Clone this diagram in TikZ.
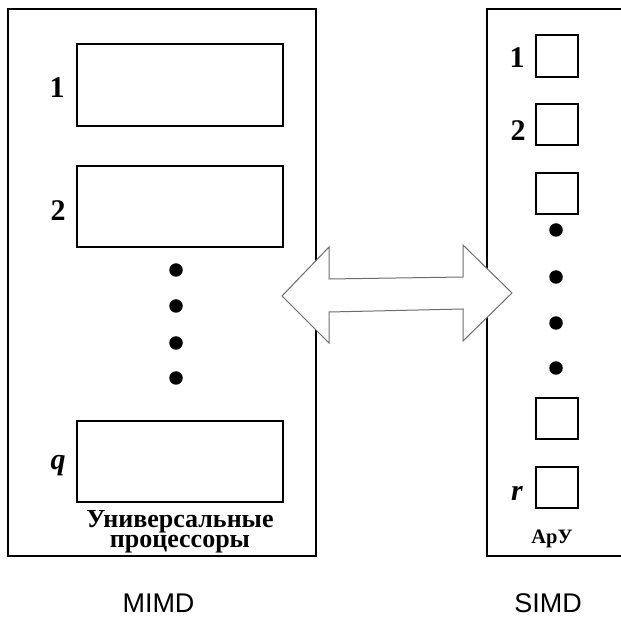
\documentclass[tikz,border=0pt]{standalone}
\usepackage{fontspec}
\setmainfont{Liberation Serif}
\newfontfamily\arialfont{Liberation Sans}
\begin{document}
\begin{tikzpicture}[x=1pt,y=-1pt,
  frame/.style={draw=black,line width=1.8pt},
  unit/.style={draw=black,line width=1.7pt},
  dotmark/.style={fill=black,circle,inner sep=0pt,minimum size=13.5pt},
  numlbl/.style={font=\fontsize{30}{30}\selectfont\bfseries,anchor=base,inner sep=0pt},
  caplbl/.style={font=\fontsize{26}{20}\selectfont\bfseries,align=center,anchor=base,inner sep=0pt},
  smallcap/.style={font=\fontsize{20.5}{20}\selectfont\bfseries,anchor=base,inner sep=0pt},
  sysl/.style={font=\arialfont\fontsize{27}{27}\selectfont,anchor=base,inner sep=0pt},
  bigarrow/.style={draw=gray!85!black,line width=1pt,fill=white,line join=miter}]
\useasboundingbox (0,0) rectangle (621,617);
\clip (0,0) rectangle (621,617);
% frames
\draw[frame] (8,9) rectangle (316,556);
\draw[frame] (487,9) rectangle (640,556);
% MIMD units
\node[unit,minimum width=206pt,minimum height=82pt,anchor=north west] (m1) at (76,43) {};
\node[unit,minimum width=206pt,minimum height=81pt,anchor=north west] (m2) at (76,165) {};
\node[unit,minimum width=206pt,minimum height=81pt,anchor=north west] (mq) at (76,420) {};
\node[numlbl] (l1) at (57,98) {1};
\node[numlbl] (l2) at (58,221) {2};
\node[numlbl] (lq) at (58,469) {\itshape q};
\node[dotmark] (d1) at (176,270) {};
\node[dotmark] (d2) at (176,306) {};
\node[dotmark] (d3) at (176,343) {};
\node[dotmark] (d4) at (176,378) {};
\node[caplbl] (mcap) at (180,547) {Универсальные\\процессоры};
% SIMD units
\node[unit,minimum width=42pt,minimum height=42pt,anchor=north west] (s1) at (535,34) {};
\node[unit,minimum width=42pt,minimum height=41pt,anchor=north west] (s2) at (535,103) {};
\node[unit,minimum width=42pt,minimum height=41pt,anchor=north west] (s3) at (535,172) {};
\node[unit,minimum width=42pt,minimum height=41pt,anchor=north west] (s4) at (535,397) {};
\node[unit,minimum width=42pt,minimum height=41pt,anchor=north west] (sr) at (535,466) {};
\node[numlbl] (r1) at (517,68) {1};
\node[numlbl] (r2) at (518,141) {2};
\node[numlbl] (rr) at (517,500) {\itshape r};
\node[dotmark] (e1) at (556,230) {};
\node[dotmark] (e2) at (556,277) {};
\node[dotmark] (e3) at (556,323) {};
\node[dotmark] (e4) at (556,368) {};
\node[smallcap] (scap) at (552,543) {АрУ};
% double arrow
\draw[bigarrow] (282,296) -- (329,247) -- (329,279) -- (463,277) -- (463,245)
  -- (512,293) -- (463,341) -- (463,309) -- (329,312) -- (329,343) -- cycle;
% system labels
\node[sysl] (mimd) at (158.5,612) {MIMD};
\node[sysl] (simd) at (548,612) {SIMD};
\end{tikzpicture}
\end{document}
